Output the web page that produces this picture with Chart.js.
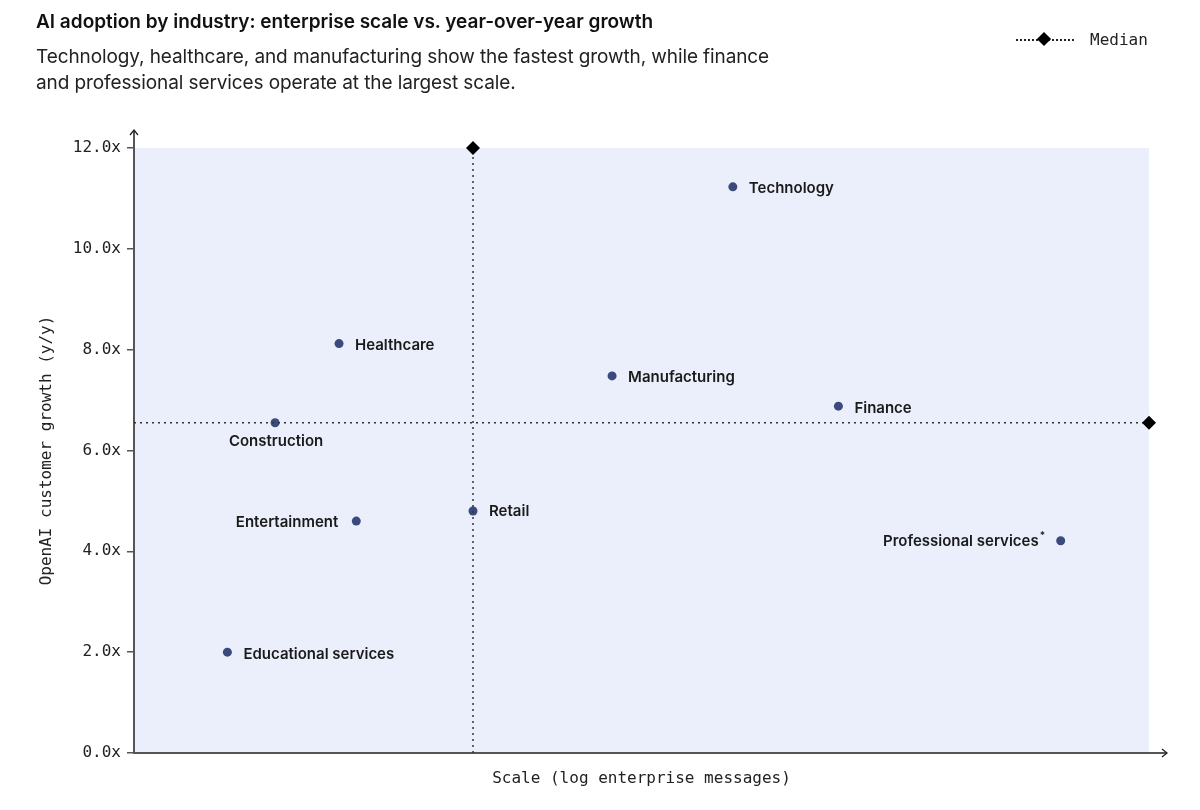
<!DOCTYPE html>
<html>
<head>
<meta charset="utf-8">
<script src="https://cdn.jsdelivr.net/npm/chart.js@4.4.1/dist/chart.umd.min.js"></script>
<style>
  html, body { margin: 0; padding: 0; background: #fff; }
  #wrap { position: relative; width: 1200px; height: 810px; overflow: hidden; }
  #chart { position: absolute; left: 0; top: 0; }
  .title { position: absolute; left: 36px; top: 10px; font: 600 19px Inter, sans-serif; color: #111; letter-spacing: 0; }
  .sub { position: absolute; left: 36px; top: 44px; font: 400 19px Inter, sans-serif; color: #222; line-height: 26px; letter-spacing: -0.1px; }
  .legend { position: absolute; left: 1016px; top: 30px; font: 16px "DejaVu Sans Mono", monospace; color: #222; display: flex; align-items: center; }
  .legend .line { position: relative; width: 58px; height: 0; border-top: 2px dotted #222; margin-right: 16px; }
  .legend .dia { position: absolute; left: 23px; top: -7px; width: 10px; height: 10px; background: #000; transform: rotate(45deg); }
</style>
</head>
<body>
<div id="wrap">
  <canvas id="chart" width="1200" height="810"></canvas>
  <div class="title">AI adoption by industry: enterprise scale vs. year-over-year growth</div>
  <div class="sub">Technology, healthcare, and manufacturing show the fastest growth, while finance<br>and professional services operate at the largest scale.</div>
  <div class="legend"><span class="line"><span class="dia"></span></span>Median</div>
</div>
<script>
// industries, scale (arbitrary log units) and growth (x)
const industries = ['Technology', 'Healthcare', 'Manufacturing', 'Finance', 'Construction',
                    'Entertainment', 'Retail', 'Professional services', 'Educational services'];
const scaleValues = [5.90, 2.02, 4.71, 6.94, 1.39, 2.19, 3.34, 9.13, 0.92];
const growthValues = [11.23, 8.12, 7.48, 6.88, 6.55, 4.60, 4.80, 4.21, 2.00];
const medianScale = 3.34;
const medianGrowth = 6.55;
const yTicks = [0, 2, 4, 6, 8, 10, 12];

// where each label sits relative to its dot
const labelPlace = ['right', 'right', 'right', 'right', 'below', 'left', 'right', 'left', 'right'];

const X_MAX = 10, Y_MAX = 12;
const AXIS = '#555';

const areaBg = {
  id: 'areaBg',
  beforeDraw(chart) {
    const { ctx, chartArea: a } = chart;
    ctx.save();
    ctx.fillStyle = '#ebeffb';
    ctx.fillRect(a.left, a.top, a.right - a.left, a.bottom - a.top);
    ctx.restore();
  }
};

const axisArrows = {
  id: 'axisArrows',
  afterDraw(chart) {
    const { ctx, chartArea: a } = chart;
    ctx.save();
    ctx.strokeStyle = AXIS;
    ctx.lineWidth = 2;
    ctx.beginPath();
    ctx.moveTo(a.left, a.top); ctx.lineTo(a.left, a.top - 18);
    ctx.moveTo(a.right, a.bottom); ctx.lineTo(a.right + 18, a.bottom);
    ctx.stroke();
    ctx.strokeStyle = '#222';
    ctx.lineWidth = 1.3;
    ctx.beginPath();
    ctx.moveTo(a.left - 4, a.top - 13); ctx.lineTo(a.left, a.top - 18); ctx.lineTo(a.left + 4, a.top - 13);
    ctx.moveTo(a.right + 13, a.bottom - 4); ctx.lineTo(a.right + 18, a.bottom); ctx.lineTo(a.right + 13, a.bottom + 4);
    ctx.stroke();
    ctx.restore();
  }
};

const pointLabels = {
  id: 'pointLabels',
  afterDatasetsDraw(chart) {
    const { ctx } = chart;
    const meta = chart.getDatasetMeta(2);
    ctx.save();
    ctx.font = '600 15px Inter, sans-serif';
    ctx.fillStyle = '#1a1a1a';
    ctx.textBaseline = 'middle';
    meta.data.forEach((pt, i) => {
      const name = industries[i];
      const place = labelPlace[i];
      if (place === 'right') {
        ctx.textAlign = 'left';
        ctx.fillText(name, pt.x + 16, pt.y + (name === 'Retail' ? 0 : 2));
      } else if (place === 'below') {
        ctx.textAlign = 'center';
        ctx.fillText(name, pt.x + 1, pt.y + 19);
      } else {
        ctx.textAlign = 'right';
        if (name === 'Professional services') {
          ctx.fillText(name, pt.x - 22, pt.y + 1);
          ctx.font = '600 10px Inter, sans-serif';
          ctx.textAlign = 'left';
          ctx.fillText('*', pt.x - 21, pt.y - 5);
          ctx.font = '600 15px Inter, sans-serif';
        } else {
          ctx.fillText(name, pt.x - 18, pt.y + 1);
        }
      }
    });
    ctx.restore();
  }
};

new Chart(document.getElementById('chart').getContext('2d'), {
  type: 'scatter',
  data: {
    datasets: [
      {
        label: 'Median scale',
        type: 'line',
        data: [{ x: medianScale, y: 0 }, { x: medianScale, y: Y_MAX }],
        borderColor: '#333',
        borderWidth: 1.5,
        borderDash: [2, 4],
        pointStyle: 'rectRot',
        pointRadius: [0, 7],
        pointBackgroundColor: '#000',
        pointBorderWidth: 0,
        clip: false
      },
      {
        label: 'Median growth',
        type: 'line',
        data: [{ x: 0, y: medianGrowth }, { x: X_MAX, y: medianGrowth }],
        borderColor: '#333',
        borderWidth: 1.5,
        borderDash: [2, 4],
        pointStyle: 'rectRot',
        pointRadius: [0, 7],
        pointBackgroundColor: '#000',
        pointBorderWidth: 0,
        clip: false
      },
      {
        label: 'Industries',
        data: scaleValues.map((x, i) => ({ x, y: growthValues[i] })),
        pointRadius: 4.5,
        pointBackgroundColor: '#3b4a7d',
        pointBorderWidth: 0,
        clip: false
      }
    ]
  },
  options: {
    responsive: false,
    animation: false,
    layout: { padding: { left: 0, top: 148, right: 51, bottom: 0 } },
    plugins: { legend: { display: false }, tooltip: { enabled: false } },
    scales: {
      x: {
        type: 'linear',
        min: 0,
        max: X_MAX,
        afterFit(s) { s.height = 57; },
        grid: { display: false },
        border: { display: true, color: AXIS, width: 2 },
        ticks: { display: false },
        title: {
          display: true,
          text: 'Scale (log enterprise messages)',
          color: '#222',
          font: { family: 'DejaVu Sans Mono', size: 16 },
          padding: { top: 4, bottom: 22 }
        }
      },
      y: {
        min: 0,
        max: Y_MAX,
        afterFit(s) { s.width = 134; },
        afterBuildTicks(s) { s.ticks = yTicks.map(v => ({ value: v })); },
        grid: { display: true, drawOnChartArea: false, drawTicks: true, tickLength: 7, color: AXIS, lineWidth: 1.5 },
        border: { display: true, color: AXIS, width: 2 },
        ticks: {
          color: '#222',
          padding: 6,
          font: { family: 'DejaVu Sans Mono', size: 16 },
          callback: v => v.toFixed(1) + 'x'
        },
        title: {
          display: true,
          text: 'OpenAI customer growth (y/y)',
          color: '#222',
          font: { family: 'DejaVu Sans Mono', size: 16 },
          padding: { top: 37, bottom: 0 }
        }
      }
    }
  },
  plugins: [areaBg, axisArrows, pointLabels]
});
</script>
</body>
</html>
